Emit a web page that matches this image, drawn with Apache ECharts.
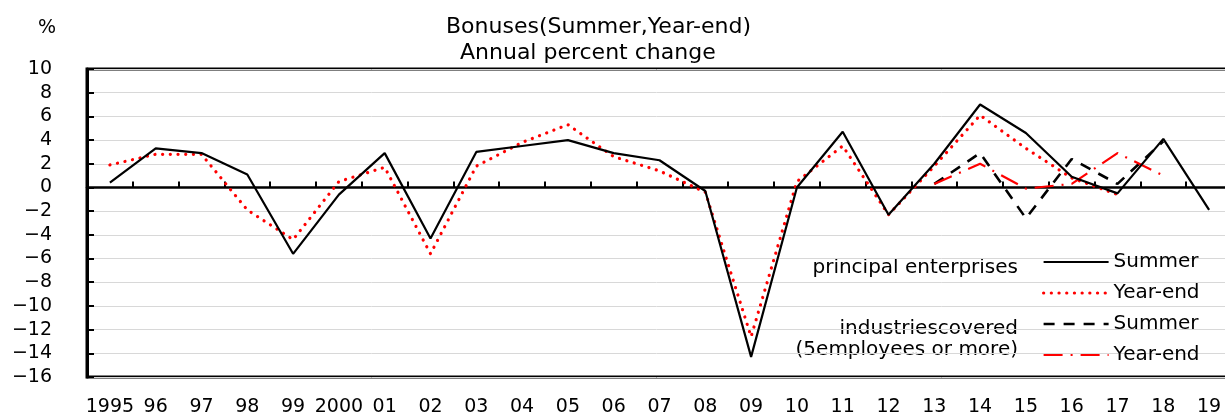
<!DOCTYPE html>
<html>
<head>
<meta charset="utf-8">
<script src="https://cdn.jsdelivr.net/npm/echarts@6/dist/echarts.min.js"></script>
<style>
  html, body { margin: 0; padding: 0; background: #fff; }
  #main { width: 1225px; height: 417px; }
</style>
</head>
<body>
<div id="main"></div>
<script>
// years on the category axis
var years = ['1995', '96', '97', '98', '99', '2000', '01', '02', '03', '04', '05', '06', '07',
  '08', '09', '10', '11', '12', '13', '14', '15', '16', '17', '18', '19'];

// principal enterprises
var principalSummer = [0.4, 3.3, 2.9, 1.1, -5.6, -0.6, 2.9, -4.3, 3.0, 3.5, 4.0, 2.9, 2.3,
  -0.3, -14.3, 0.0, 4.7, -2.3, 2.0, 7.0, 4.6, 0.9, -0.5, 4.1, -1.9];
var principalYearEnd = [1.9, 2.8, 2.8, -1.9, -4.4, 0.5, 1.7, -5.6, 1.8, 3.8, 5.3, 2.6, 1.4,
  -0.4, -12.6, 0.5, 3.5, -2.3, 1.8, 6.1, 3.3, 0.8, -0.6, null, null];

// industries covered (5 employees or more), from 2013
var coveredSummer = [null, null, null, null, null, null, null, null, null, null, null, null, null,
  null, null, null, null, null, 0.3, 2.9, -2.6, 2.4, 0.3, 3.9, null];
var coveredYearEnd = [null, null, null, null, null, null, null, null, null, null, null, null, null,
  null, null, null, null, null, 0.3, 2.0, -0.1, 0.3, 2.9, 1.0, null];

var yTicks = { min: -16, max: 10, step: 2 };

var legendNames = {
  pS: 'Summer', pY: 'Year-end', cS: 'Summer', cY: 'Year-end'
};

var font = 'DejaVu Sans';

// line looks, shared by series and legend
var styles = {
  pS: { color: '#000', width: 2.2 },
  pY: { color: '#ff0000', width: 3.2, type: [0.1, 7.6], cap: 'round' },
  cS: { color: '#000', width: 2.6, type: [11, 9] },
  cY: { color: '#ff0000', width: 2.2, type: [19, 8, 2, 8] }
};

var myChart = echarts.init(document.getElementById('main'));

myChart.setOption({
  animation: false,
  textStyle: { fontFamily: font, color: '#000' },
  title: [
    { text: 'Bonuses(Summer,Year-end)', left: 446, top: 16, padding: 0,
      textStyle: { fontFamily: font, fontSize: 22, fontWeight: 'normal', color: '#000' } },
    { text: 'Annual percent change', left: 460, top: 42, padding: 0,
      textStyle: { fontFamily: font, fontSize: 22, fontWeight: 'normal', color: '#000' } }
  ],
  grid: {
    left: 87, top: 69, width: 1145, height: 308,
    outerBoundsMode: 'none', containLabel: false,
    show: true, borderColor: '#000', borderWidth: 3, backgroundColor: 'transparent'
  },
  legend: {
    orient: 'vertical',
    left: 1042, top: 252, padding: 0,
    itemWidth: 65, itemHeight: 20, itemGap: 11,
    itemStyle: { opacity: 0 },
    textStyle: { fontFamily: font, fontSize: 20, color: '#000' },
    formatter: function (name) { return legendNames[name]; },
    data: ['pS', 'pY', 'cS', 'cY'].map(function (k) {
      return { name: k, lineStyle: styles[k] };
    })
  },
  graphic: [
    { type: 'text', left: 38, top: 19, style: { text: '%', fontFamily: font, fontSize: 19, fill: '#000' } },
    { type: 'text', right: 207, top: 258, style: { text: 'principal enterprises', fontFamily: font, fontSize: 20, fill: '#000' } },
    { type: 'text', right: 207, top: 319, style: { text: 'industriescovered', fontFamily: font, fontSize: 20, fill: '#000' } },
    { type: 'text', right: 207, top: 340, style: { text: '(5employees or more)', fontFamily: font, fontSize: 20, fill: '#000' } }
  ],
  xAxis: [
    {
      type: 'category', data: years, position: 'bottom',
      axisLine: { show: false, onZero: false },
      axisTick: { show: false },
      axisLabel: { margin: 21, fontSize: 19, color: '#000', fontFamily: font, interval: 0 },
      splitLine: { show: false }
    },
    {
      type: 'category', data: years, position: 'bottom',
      axisLine: { show: true, onZero: true, lineStyle: { color: '#000', width: 2.5 } },
      axisTick: { show: true, inside: true, length: 6, interval: 0, lineStyle: { color: '#000', width: 2 } },
      axisLabel: { show: false },
      splitLine: { show: false }
    }
  ],
  yAxis: {
    type: 'value', min: yTicks.min, max: yTicks.max, interval: yTicks.step,
    axisLine: { show: true, onZero: false, lineStyle: { color: '#000', width: 3 } },
    axisTick: { show: true, inside: true, length: 7, lineStyle: { color: '#000', width: 2 } },
    axisLabel: {
      margin: 35, fontSize: 19, color: '#000', fontFamily: font,
      formatter: function (v) { return v < 0 ? '\u2212' + Math.abs(v) : String(v); }
    },
    splitLine: { show: true, lineStyle: { color: '#d8d8d8', width: 1 } }
  },
  series: [
    { name: 'pS', type: 'line', data: principalSummer, symbol: 'none', z: 5,
      itemStyle: { color: styles.pS.color }, lineStyle: styles.pS },
    { name: 'pY', type: 'line', data: principalYearEnd, symbol: 'none', z: 4,
      itemStyle: { color: styles.pY.color }, lineStyle: styles.pY },
    { name: 'cS', type: 'line', data: coveredSummer, symbol: 'none', z: 3,
      itemStyle: { color: styles.cS.color }, lineStyle: styles.cS },
    { name: 'cY', type: 'line', data: coveredYearEnd, symbol: 'none', z: 3,
      itemStyle: { color: styles.cY.color }, lineStyle: styles.cY }
  ]
});
</script>
</body>
</html>
